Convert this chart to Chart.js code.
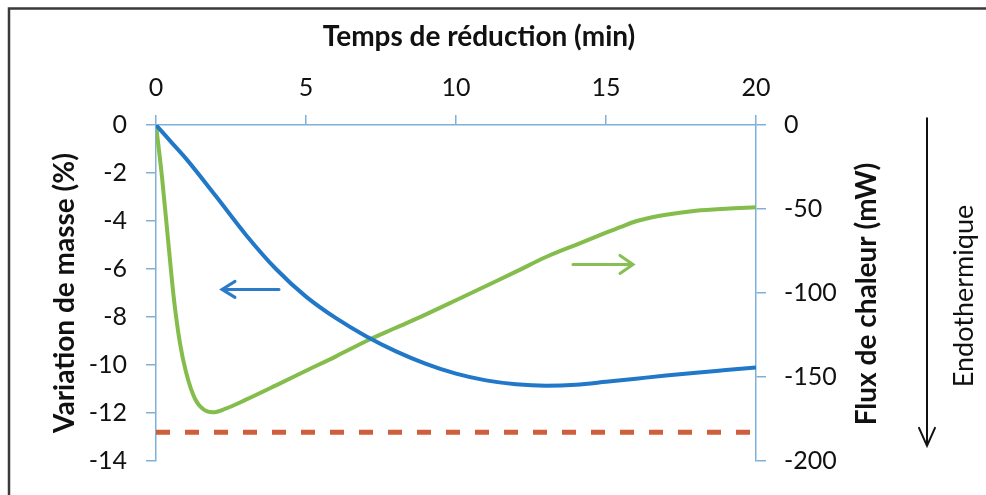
<!DOCTYPE html>
<html>
<head>
<meta charset="utf-8">
<script src="https://cdn.jsdelivr.net/npm/chart.js@4/dist/chart.umd.min.js"></script>
<style>
  html, body { margin: 0; padding: 0; background: #fff; }
  #c { display: block; }
</style>
</head>
<body>
<canvas id="c" width="986" height="495"></canvas>
<script>
// mass variation (%) - left axis
const massTime = [0, 0.5, 1, 2, 3, 4, 5, 6, 7, 8, 9, 10, 11, 12, 13, 14, 15, 16, 17, 18, 19, 20];
const massValues = [0, -0.7, -1.4, -2.97, -4.58, -6.0, -7.15, -8.05, -8.8, -9.43, -9.95, -10.36, -10.64, -10.8, -10.86, -10.82, -10.7, -10.57, -10.44, -10.32, -10.21, -10.1];

// heat flux (mW) - right axis
const fluxTime = [0, 0.2, 0.4, 0.6, 0.8, 1.0, 1.3, 1.6, 1.9, 2.3, 3, 4, 5, 6, 7, 8, 9, 10, 11, 12, 13, 14, 15, 15.5, 16, 16.5, 17, 18, 19, 20];
const fluxValues = [0, -31, -68, -104, -130, -147, -163, -169.5, -171, -169, -163.5, -155, -146.3, -137.7, -128.7, -120.7, -112.7, -104.3, -95.8, -87.3, -78.6, -71.3, -64.1, -60.6, -57.3, -55.1, -53.4, -51.0, -49.8, -49];

// theoretical mass loss (dashed)
const limitTime = [0, 19.8];
const limitValue = -12.8;

const xTicksStep = 5;
const massRange = [-14, 0];
const fluxRange = [-200, 0];

// arrows: [from x, to x, y]
const blueArrow = [4.1, 2.2, -6.85];
const greenArrow = [13.9, 15.9, -83];
const endoArrow = [4, -191];

const axisBlue = '#7fb0d8';
const txt = '#111';

Chart.defaults.font.family = 'Lato';
Chart.defaults.color = txt;

function arrow(ctx, x1, y1, x2, y2, back, spread, color, w) {
  ctx.save();
  ctx.strokeStyle = color;
  ctx.lineWidth = w;
  ctx.lineCap = 'round';
  ctx.beginPath();
  ctx.moveTo(x1, y1);
  ctx.lineTo(x2, y2);
  const a = Math.atan2(y2 - y1, x2 - x1);
  const bx = x2 - back * Math.cos(a), by = y2 - back * Math.sin(a);
  const px = -Math.sin(a) * spread, py = Math.cos(a) * spread;
  ctx.moveTo(bx + px, by + py);
  ctx.lineTo(x2, y2);
  ctx.lineTo(bx - px, by - py);
  ctx.stroke();
  ctx.restore();
}

function text(ctx, str, x, y, font, rot) {
  ctx.save();
  ctx.translate(x, y);
  if (rot) ctx.rotate(-Math.PI / 2);
  ctx.font = font;
  ctx.fillStyle = txt;
  ctx.textAlign = 'center';
  ctx.textBaseline = 'middle';
  ctx.fillText(str, 0, 0);
  ctx.restore();
}

const decor = {
  id: 'decor',
  beforeDraw(chart) {
    const ctx = chart.ctx;
    ctx.save();
    ctx.strokeStyle = '#3a3a3a';
    ctx.lineWidth = 2.5;
    ctx.beginPath();
    ctx.moveTo(9, chart.height);
    ctx.lineTo(9, 8.5);
    ctx.lineTo(chart.width, 8.5);
    ctx.stroke();
    ctx.restore();
  },
  afterDraw(chart) {
    const { ctx, chartArea, scales: { x, y, y2 } } = chart;
    const by = y.getPixelForValue(blueArrow[2]);
    arrow(ctx, x.getPixelForValue(blueArrow[0]), by, x.getPixelForValue(blueArrow[1]), by, 13, 8, '#2b7bc9', 3);
    const gy = y2.getPixelForValue(greenArrow[2]);
    arrow(ctx, x.getPixelForValue(greenArrow[0]), gy, x.getPixelForValue(greenArrow[1]), gy, 13, 9, '#86bf52', 3);
    const ex = chartArea.right + 171;
    arrow(ctx, ex, y2.getPixelForValue(endoArrow[0]), ex, y2.getPixelForValue(endoArrow[1]), 18, 8, '#111', 2);
    const midY = (chartArea.top + chartArea.bottom) / 2;
    const midX = (chartArea.left + chartArea.right) / 2;
    text(ctx, 'Temps de réduction (min)', midX + 23, 37, 'bold 28px Lato', false);
    text(ctx, 'Flux de chaleur (mW)', chartArea.right + 111, midY + 1, 'bold 28px Lato', true);
    text(ctx, 'Endothermique', chartArea.right + 208, midY + 3, '27px Lato', true);
  }
};

new Chart(document.getElementById('c'), {
  type: 'line',
  data: {
    datasets: [
      {
        label: 'Variation de masse',
        data: massTime.map((t, i) => ({ x: t, y: massValues[i] })),
        yAxisID: 'y',
        borderColor: '#2178c8',
        borderWidth: 4,
        pointRadius: 0,
        cubicInterpolationMode: 'monotone'
      },
      {
        label: 'Flux de chaleur',
        data: fluxTime.map((t, i) => ({ x: t, y: fluxValues[i] })),
        yAxisID: 'y2',
        borderColor: '#84bd4c',
        borderWidth: 4,
        pointRadius: 0,
        cubicInterpolationMode: 'monotone'
      },
      {
        label: 'Limite',
        data: limitTime.map(t => ({ x: t, y: limitValue })),
        yAxisID: 'y',
        borderColor: '#cf5f3c',
        borderWidth: 5,
        borderDash: [14, 15],
        pointRadius: 0
      }
    ]
  },
  options: {
    responsive: false,
    animation: false,
    layout: { padding: { left: 0, right: 0, top: 0, bottom: 28 } },
    plugins: { legend: { display: false }, tooltip: { enabled: false } },
    scales: {
      x: {
        type: 'linear',
        position: 'top',
        min: 0,
        max: 20,
        ticks: { stepSize: xTicksStep, font: { size: 25 }, color: txt, padding: 12 },
        grid: { drawOnChartArea: false, tickLength: 10, color: axisBlue, lineWidth: 1.5 },
        border: { color: axisBlue, width: 1.5 },
        afterFit(s) { s.height = 125; }
      },
      y: {
        position: 'left',
        min: massRange[0],
        max: massRange[1],
        ticks: { stepSize: 2, font: { size: 25 }, color: txt, padding: 19 },
        grid: { drawOnChartArea: false, tickLength: 10, color: axisBlue, lineWidth: 1.5 },
        border: { color: axisBlue, width: 1.5 },
        title: { display: true, text: 'Variation de masse (%)', font: { size: 28, weight: 'bold' }, color: txt, padding: { top: 48, bottom: 0 } },
        afterFit(s) { s.width = 156; }
      },
      y2: {
        position: 'right',
        min: fluxRange[0],
        max: fluxRange[1],
        ticks: { stepSize: 50, font: { size: 25 }, color: txt, padding: 18 },
        grid: { drawOnChartArea: false, tickLength: 10, color: axisBlue, lineWidth: 1.5 },
        border: { color: axisBlue, width: 1.5 },
        afterFit(s) { s.width = 230; }
      }
    }
  },
  plugins: [decor]
});
</script>
</body>
</html>
